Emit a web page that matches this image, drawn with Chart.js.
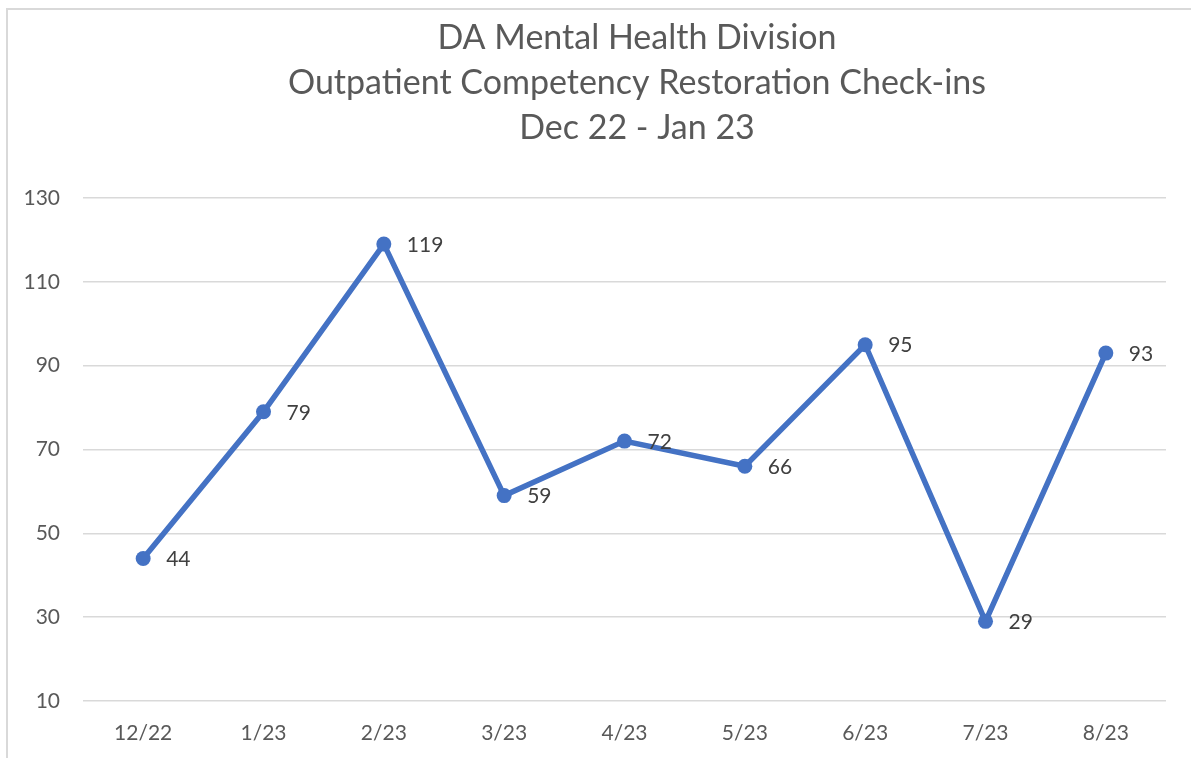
<!DOCTYPE html>
<html>
<head>
<meta charset="utf-8">
<script src="https://cdn.jsdelivr.net/npm/chart.js@4/dist/chart.umd.min.js"></script>
<style>
  html, body { margin: 0; padding: 0; background: #fff; }
  #frame { position: absolute; left: 6px; top: 8px; width: 1300px; height: 900px;
           border-left: 2px solid #d9d9d9; border-top: 2px solid #d9d9d9; }
  #wrap { position: absolute; left: 0; top: 0; width: 1191px; height: 758px; }
</style>
</head>
<body>
<div id="frame"></div>
<div id="wrap"><canvas id="c" width="1191" height="758"></canvas></div>
<script>
const titleLines = ["DA Mental Health Division", "Outpatient Competency Restoration Check-ins", "Dec 22 - Jan 23"];
const categories = ["12/22", "1/23", "2/23", "3/23", "4/23", "5/23", "6/23", "7/23", "8/23"];
const checkIns = [44, 79, 119, 59, 72, 66, 95, 29, 93];
const yMin = 10, yMax = 130, yStep = 20;

const FONT = "Lato, Carlito, Calibri, sans-serif";

const chartTitle = {
  id: 'chartTitle',
  afterDraw(chart) {
    const ctx = chart.ctx;
    ctx.save();
    ctx.font = "34px " + FONT;
    ctx.fillStyle = "#595959";
    ctx.textAlign = "center";
    ctx.textBaseline = "middle";
    titleLines.forEach((t, i) => ctx.fillText(t, 637, 38 + i * 45));
    ctx.restore();
  }
};

const pointLabels = {
  id: 'pointLabels',
  afterDatasetsDraw(chart) {
    const ctx = chart.ctx;
    const meta = chart.getDatasetMeta(0);
    ctx.save();
    ctx.font = "21px " + FONT;
    ctx.fillStyle = "#404040";
    ctx.textAlign = "left";
    ctx.textBaseline = "middle";
    meta.data.forEach((pt, i) => {
      ctx.fillText(String(chart.data.datasets[0].data[i]), pt.x + 23, pt.y + 1);
    });
    ctx.restore();
  }
};

new Chart(document.getElementById('c'), {
  type: 'line',
  data: {
    labels: categories,
    datasets: [{
      data: checkIns,
      borderColor: '#4472C4',
      backgroundColor: '#4472C4',
      borderWidth: 5.5,
      pointRadius: 7.5,
      pointHoverRadius: 7.5,
      pointBackgroundColor: '#4472C4',
      pointBorderWidth: 0,
      tension: 0,
      fill: false
    }]
  },
  options: {
    responsive: false,
    animation: false,
    devicePixelRatio: 1,
    layout: { padding: { left: 0, right: 25, top: 198, bottom: 0 } },
    plugins: {
      legend: { display: false },
      tooltip: { enabled: false },
      title: { display: false }
    },
    scales: {
      x: {
        offset: true,
        grid: { display: false, drawTicks: false },
        border: { display: false },
        ticks: { color: '#595959', font: { family: FONT, size: 21 }, padding: 20, maxRotation: 0 },
        afterFit(scale) { scale.height = 57; }
      },
      y: {
        min: yMin, max: yMax,
        grid: { color: '#d9d9d9', lineWidth: 1.5, drawTicks: false },
        border: { display: false },
        ticks: { stepSize: yStep, color: '#595959', font: { family: FONT, size: 21 }, padding: 23 },
        afterFit(scale) { scale.width = 83; }
      }
    }
  },
  plugins: [pointLabels, chartTitle]
});
</script>
</body>
</html>
